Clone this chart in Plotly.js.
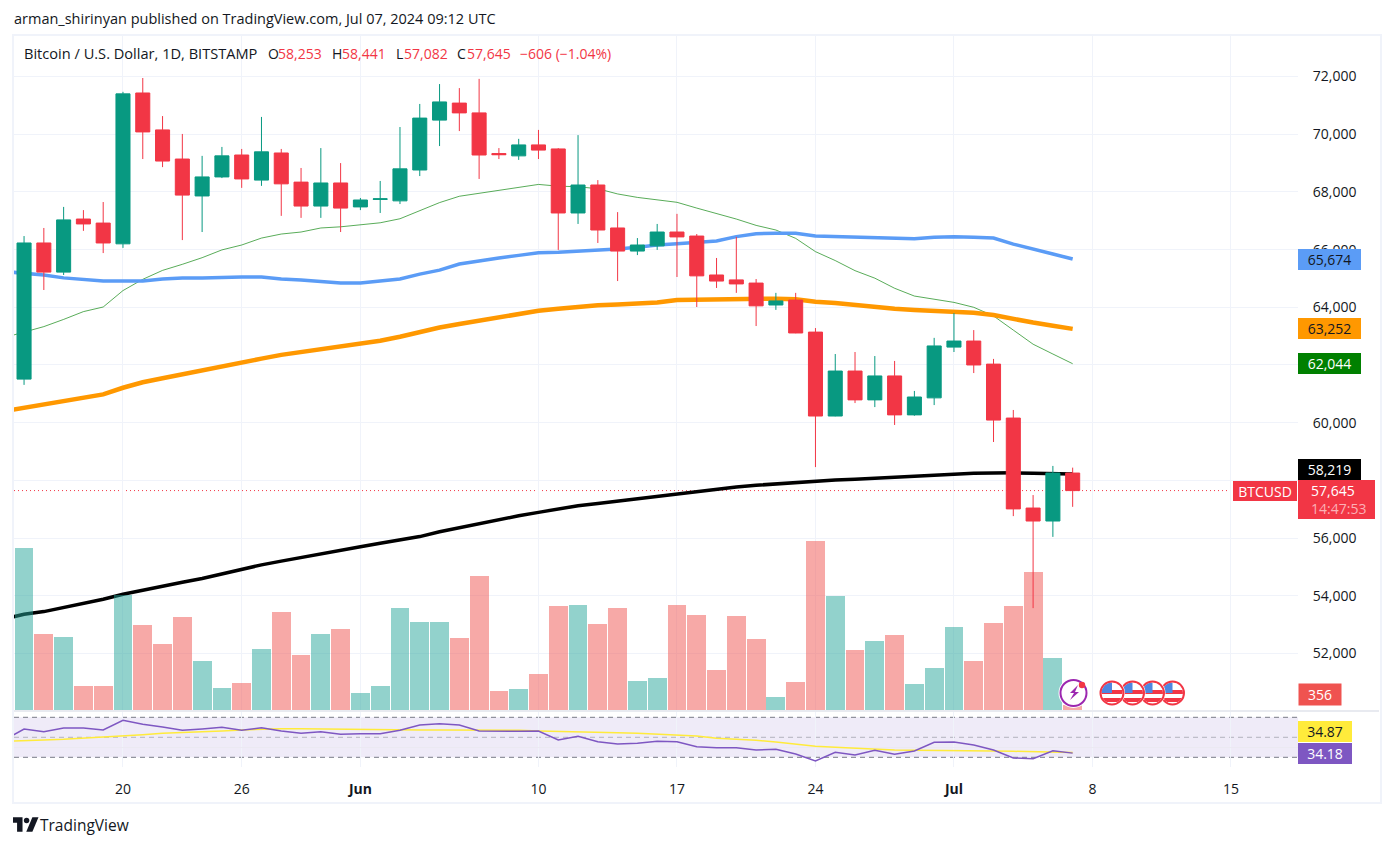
<!DOCTYPE html>
<html><head><meta charset="utf-8">
<script src="https://cdn.plot.ly/plotly-3.0.1.min.js"></script>
<style>
html,body{margin:0;padding:0;background:#fff;width:1393px;height:846px;overflow:hidden}
#chart{position:absolute;left:0;top:0;width:1393px;height:846px}
#frame{position:absolute;left:12px;top:34px;width:1366px;height:766px;border:2px solid #f0f3fa;pointer-events:none}
#deco{position:absolute;left:0;top:0;pointer-events:none}
</style></head><body>
<div id="frame"></div>
<div id="chart"></div>
<svg id="deco" width="1393" height="846" viewBox="0 0 1393 846">
  <defs>
    <g id="flag">
      <circle r="13" fill="#fff"/>
      <clipPath id="fc"><circle r="10.5"/></clipPath>
      <g clip-path="url(#fc)">
        <rect x="-11" y="-11" width="22" height="22" fill="#fff"/>
        <rect x="-11" y="-3" width="22" height="4" fill="#f23645"/>
        <rect x="-11" y="5" width="22" height="4" fill="#f23645"/>
        <rect x="-11" y="-11" width="11" height="11" fill="#4f86e0"/>
      </g>
      <circle r="11.5" fill="none" stroke="#f23645" stroke-width="2"/>
    </g>
  </defs>
  <use href="#flag" x="1172.5" y="693"/><use href="#flag" x="1152.5" y="693"/><use href="#flag" x="1132.5" y="693"/><use href="#flag" x="1112" y="693"/>
  <circle cx="1073.5" cy="693" r="15" fill="#fff"/>
  <circle cx="1073.5" cy="693" r="13" fill="none" stroke="#9c27b0" stroke-width="2"/>
  <path d="M1078 685l-8 8h4l-4 7 9-8h-4l3-7z" fill="#9c27b0"/>
  <circle cx="1082" cy="685" r="3.2" fill="#f23645"/>
  <g fill="#131722" transform="translate(13,816) scale(0.68)">
    <path d="M14 2H0v8h6v13h8V2Z"/><circle cx="20" cy="6.5" r="4"/><path d="M28.5 23h-9l9-21h9l-9 21Z"/>
  </g>
</svg>
<script>
const dates = ['2024-05-14','2024-05-15','2024-05-16','2024-05-17','2024-05-18','2024-05-19','2024-05-20','2024-05-21','2024-05-22','2024-05-23','2024-05-24','2024-05-25','2024-05-26','2024-05-27','2024-05-28','2024-05-29','2024-05-30','2024-05-31',
'2024-06-01','2024-06-02','2024-06-03','2024-06-04','2024-06-05','2024-06-06','2024-06-07','2024-06-08','2024-06-09','2024-06-10','2024-06-11','2024-06-12','2024-06-13','2024-06-14','2024-06-15','2024-06-16','2024-06-17','2024-06-18','2024-06-19','2024-06-20','2024-06-21','2024-06-22','2024-06-23','2024-06-24','2024-06-25','2024-06-26','2024-06-27','2024-06-28','2024-06-29','2024-06-30',
'2024-07-01','2024-07-02','2024-07-03','2024-07-04','2024-07-05','2024-07-06','2024-07-07'];

// candles start on May 15
const open = [61510,66230,65220,67060,66920,66200,71430,70150,69140,67860,68520,69280,68410,69350,68340,67510,68310,
67480,67740,67690,68760,70490,71080,70740,69330,69250,69630,69490,67270,68240,66750,65950,66130,66610,66470,65120,64950,64840,64080,64250,63140,60230,61790,60790,61620,60270,60860,
62620,62830,62030,60160,57040,56590,58253];
const high = [66470,66750,67480,67370,67650,71470,71950,70630,70010,69250,69560,69490,70600,69490,68830,69520,69000,
67790,68380,70250,71050,71740,71600,71920,69520,69840,70150,69520,69970,68410,67300,66400,66890,67240,66540,65710,66440,64980,64500,64500,63280,62380,62450,62310,62140,61100,62940,
63800,63210,62210,60440,57490,58500,58441];
const low = [61310,64600,65120,66650,65880,66060,69140,68860,66330,66610,68480,68140,68210,67170,67100,67100,66610,
67370,67270,67580,68550,69590,70110,68450,69140,69110,69140,65990,66890,66230,64910,65810,65990,65050,64010,64670,64500,63350,63910,63100,58460,60220,60680,60540,59920,60240,60610,
62450,61720,59330,56760,53570,56040,57082];
const close = [66230,65220,67030,66890,66230,71400,70080,69070,67890,68520,69250,68450,69390,68280,67510,68310,67440,
67720,67760,68800,70560,71120,70740,69280,69290,69630,69450,67270,68240,66680,65950,66160,66610,66440,65090,64910,64810,64050,64220,63110,60230,61790,60790,61620,60270,60890,62660,
62830,62000,60090,57010,56590,58253,57645];

// volume and moving averages start on May 14
const volume = [4770,11530,5410,5200,1710,1710,8190,6050,4700,6620,3490,1570,1920,4340,6980,3920,5410,5770,
1210,1710,7260,6270,6270,5130,9540,1350,1500,2560,7400,7480,6120,7260,2060,2280,7480,6760,2850,6690,5060,930,1990,12030,8120,4270,4910,5340,1850,2990,
5910,3490,6190,7400,9830,3700,356];
const ma50 = [65240,65190,65120,65020,64960,64910,64910,64910,64980,65020,65020,65050,65050,65050,64980,64950,64910,64840,
64840,64910,64980,65150,65290,65500,65620,65710,65800,65890,65910,65940,65990,66020,66080,66160,66200,66240,66300,66450,66550,66570,66570,66470,66450,66430,66430,66380,66380,66430,
66450,66430,66400,66190,66030,65850,65674];
const ma20 = [62950,63150,63330,63580,63850,64010,64580,64970,65280,65490,65720,65990,66160,66400,66540,66610,66750,66790,
66860,66930,67070,67360,67630,67850,67950,68040,68160,68260,68200,68180,68110,67930,67810,67730,67640,67440,67250,67060,66840,66680,66390,65930,65620,65270,65010,64660,64390,64280,
64170,64000,63700,63210,62720,62380,62044];
const ma100 = [60400,60520,60620,60750,60880,60980,61210,61400,61540,61680,61830,61960,62090,62220,62350,62450,62560,62670,
62770,62840,62980,63150,63300,63420,63540,63650,63770,63880,63950,64020,64070,64100,64140,64170,64250,64260,64290,64300,64300,64300,64280,64190,64150,64080,64030,63950,63910,63880,
63850,63810,63730,63590,63470,63360,63252];
const ma200 = [53190,53360,53450,53590,53740,53880,54050,54200,54340,54470,54600,54760,54920,55070,55200,55330,55470,55590,
55700,55820,55920,56050,56220,56360,56510,56650,56770,56890,57010,57120,57200,57280,57380,57470,57550,57630,57700,57770,57830,57880,57930,57980,58010,58040,58070,58090,58120,58180,
58210,58250,58270,58260,58250,58230,58219];
const rsi = [47.3,58.3,55.6,59.3,59.3,57.3,67,63,60.3,57,58.3,60,57,59.6,56.3,54,55.6,53,
53.6,53.6,57,62.3,63.6,62.3,56.3,56,56,56.3,47.3,51,45.6,43.3,44,46,45.6,40.6,39.6,39.6,37.3,38,33.3,26.3,35,32.3,37,33,36.3,45,
45.3,42.3,37.3,29.3,28.6,36.6,34.18];
const rsiMa = [46,47,47.3,48,49,50,51.6,52.6,54,54.6,55.6,56.3,57.3,58,58.6,58.6,58.3,58.3,
58,57.3,57,57.3,57.3,57.3,57.3,57,57,56.3,56,55.6,55.3,54.6,54,53.3,52.6,51.3,49,48.3,47,45.3,43.5,41,40,39,38,37.3,37,37,
37,37,36.3,36,35.6,35.3,34.87];

const xTickVals = ['2024-05-20','2024-05-26','2024-06-01','2024-06-10','2024-06-17','2024-06-24','2024-07-01','2024-07-08','2024-07-15'];
const xTickText = ['20','26','<b>Jun</b>','10','17','24','<b>Jul</b>','8','15'];
const lastPrice = 57645;

const UP = '#089981', DOWN = '#f23645', FONT = '"Open Sans", Lato, sans-serif', INK = '#131722';
const W = 1393, H = 846, L = 14, R = 1298, T = 36, B = 767;
const px = v => (v - L) / (R - L);
const py = v => (B - v) / (B - T);

const volColors = ['rgba(239,83,80,0.5)'].concat(open.map((o, i) => close[i] >= o ? 'rgba(38,166,154,0.5)' : 'rgba(239,83,80,0.5)'));

const traces = [
  {type:'scatter',mode:'lines',x:dates,y:ma20,xaxis:'x',yaxis:'y',line:{color:'rgba(0,128,0,0.65)',width:1}},
  {type:'scatter',mode:'lines',x:dates,y:ma200,xaxis:'x',yaxis:'y',line:{color:'#000000',width:3.5}},
  {type:'scatter',mode:'lines',x:dates,y:ma100,xaxis:'x',yaxis:'y',line:{color:'#ff9800',width:4.5}},
  {type:'scatter',mode:'lines',x:dates,y:ma50,xaxis:'x',yaxis:'y',line:{color:'#5b9cf6',width:3.5}},
  {type:'bar',x:dates,y:volume,xaxis:'x',yaxis:'y2',width:86400000*0.95,marker:{color:volColors,line:{width:0}}},
  {type:'candlestick',x:dates.slice(1),open:open,high:high,low:low,close:close,xaxis:'x',yaxis:'y3',whiskerwidth:0,
    increasing:{line:{color:UP,width:1},fillcolor:UP},decreasing:{line:{color:DOWN,width:1},fillcolor:DOWN}},
  {type:'scatter',mode:'lines',x:dates,y:rsiMa,xaxis:'x',yaxis:'y4',line:{color:'#ffeb3b',width:1.5}},
  {type:'scatter',mode:'lines',x:dates,y:rsi,xaxis:'x',yaxis:'y4',line:{color:'#7e57c2',width:1.5}}
];

function text(x, y, t, color, size) {
  return {xref:'paper',yref:'paper',x:px(x),y:py(y),text:t,showarrow:false,xanchor:'left',yanchor:'middle',
    font:{family:FONT,size:size||14,color:color},borderpad:0};
}
function tag(yref, y, t, bg, color, x0, w, h) {
  return {xref:'paper',yref:yref,x:px(x0),y:y,text:t,showarrow:false,xanchor:'left',yanchor:'middle',align:'center',valign:'middle',
    width:w,height:h,bgcolor:bg,font:{family:FONT,size:14,color:color},borderpad:0,borderwidth:0};
}
const annotations = [
  text(13,19,'arman_shirinyan published on TradingView.com, Jul 07, 2024 09:12 UTC',INK,14.5),
  text(23,53,'Bitcoin / U.S. Dollar, 1D, BITSTAMP',INK,14.6),
  text(266.5,53,'O',INK,14), text(277,53,'58,253',DOWN,14),
  text(330.5,53,'H',INK,14), text(341,53,'58,441',DOWN,14),
  text(395,53,'L',INK,14), text(403,53,'57,082',DOWN,14),
  text(456,53,'C',INK,14), text(466,53,'57,645',DOWN,14),
  text(519,53,'\u2212606 (\u22121.04%)',DOWN,14),
  text(39,825,'TradingView',INK,15.5),
  tag('y',65674,'65,674','#5b9cf6',INK,R,63,21),
  tag('y',63252,'63,252','#ff9800',INK,R,63,21),
  tag('y',62044,'62,044','#008000','#ffffff',R,63,21),
  tag('y',58370,'58,219','#000000','#ffffff',R,63,21),
  tag('y',57335,' ',DOWN,'#ffffff',R,77,39),
  text(1310,490,'57,645','#ffffff',14),
  text(1310,509,'14:47:53','#fbb0b6',14),
  tag('y',lastPrice,'BTCUSD',DOWN,'#ffffff',1233,64,20),
  {xref:'paper',yref:'paper',x:px(R),y:py(694),text:'356',showarrow:false,xanchor:'left',yanchor:'middle',align:'center',valign:'middle',width:42,height:21,bgcolor:'#ef5350',font:{family:FONT,size:14,color:'#fff'},borderpad:0},
  tag('y4',55.8,'34.87','#ffeb3b',INK,R,54,21),
  tag('y4',34.18,'34.18','#7e57c2','#ffffff',R,54,21)
];

const bandLine = (v, color) => ({type:'line',xref:'paper',yref:'y4',x0:0,x1:1,y0:v,y1:v,layer:'below',line:{color:color,width:1,dash:'5px,4px'}});
const shapes = [
  {type:'rect',xref:'paper',yref:'y4',x0:0,x1:1,y0:30,y1:70,layer:'below',fillcolor:'rgba(126,87,194,0.12)',line:{width:0}},
  bandLine(70,'#787b86'), bandLine(50,'rgba(120,123,134,0.5)'), bandLine(30,'#787b86'),
  {type:'line',xref:'paper',yref:'y',x0:0,x1:px(1233),y0:lastPrice,y1:lastPrice,layer:'below',line:{color:DOWN,width:1,dash:'1px,3px'}},
  {type:'line',xref:'paper',yref:'paper',x0:px(L),x1:px(1379),y0:py(711),y1:py(711),layer:'above',line:{color:'#e0e3eb',width:1.5}}
];

const PRICE_RANGE = [50038,73406];
const layout = {
  width:W,height:H,showlegend:false,hovermode:false,
  paper_bgcolor:'rgba(0,0,0,0)',plot_bgcolor:'#ffffff',
  margin:{l:L,r:W-R,t:T,b:H-B,pad:0},
  bargap:0,
  boxgap:0.29,
  boxgroupgap:0,
  font:{family:FONT,size:14,color:INK},
  xaxis:{type:'date',range:['2024-05-14T11:48','2024-07-18T09:20'],anchor:'y4',rangeslider:{visible:false},
    tickmode:'array',tickvals:xTickVals,ticktext:xTickText,ticks:'outside',ticklen:9,tickcolor:'rgba(0,0,0,0)',
    showgrid:true,gridcolor:'#f0f3fa',gridwidth:1,zeroline:false,showline:false,tickfont:{family:FONT,size:14,color:INK}},
  yaxis:{domain:[py(710),1],range:PRICE_RANGE,side:'right',tick0:50000,dtick:2000,tickformat:',d',showgrid:true,gridcolor:'#f0f3fa',gridwidth:1,zeroline:false,showline:false,
    ticks:'outside',ticklen:11,tickcolor:'rgba(0,0,0,0)',tickfont:{family:FONT,size:14,color:INK}},
  yaxis2:{overlaying:'y',range:[0,48000],visible:false,side:'right'},
  yaxis3:{overlaying:'y',range:PRICE_RANGE,visible:false,side:'right'},
  yaxis4:{domain:[0,py(712)],range:[20.3,75.3],side:'right',tickmode:'array',tickvals:[40],showticklabels:false,ticks:'',showgrid:true,gridcolor:'#ebe9f2',zeroline:false,showline:false},
  annotations:annotations,shapes:shapes
};
Plotly.newPlot('chart',traces,layout,{displayModeBar:false,responsive:false});
</script>
</body></html>
